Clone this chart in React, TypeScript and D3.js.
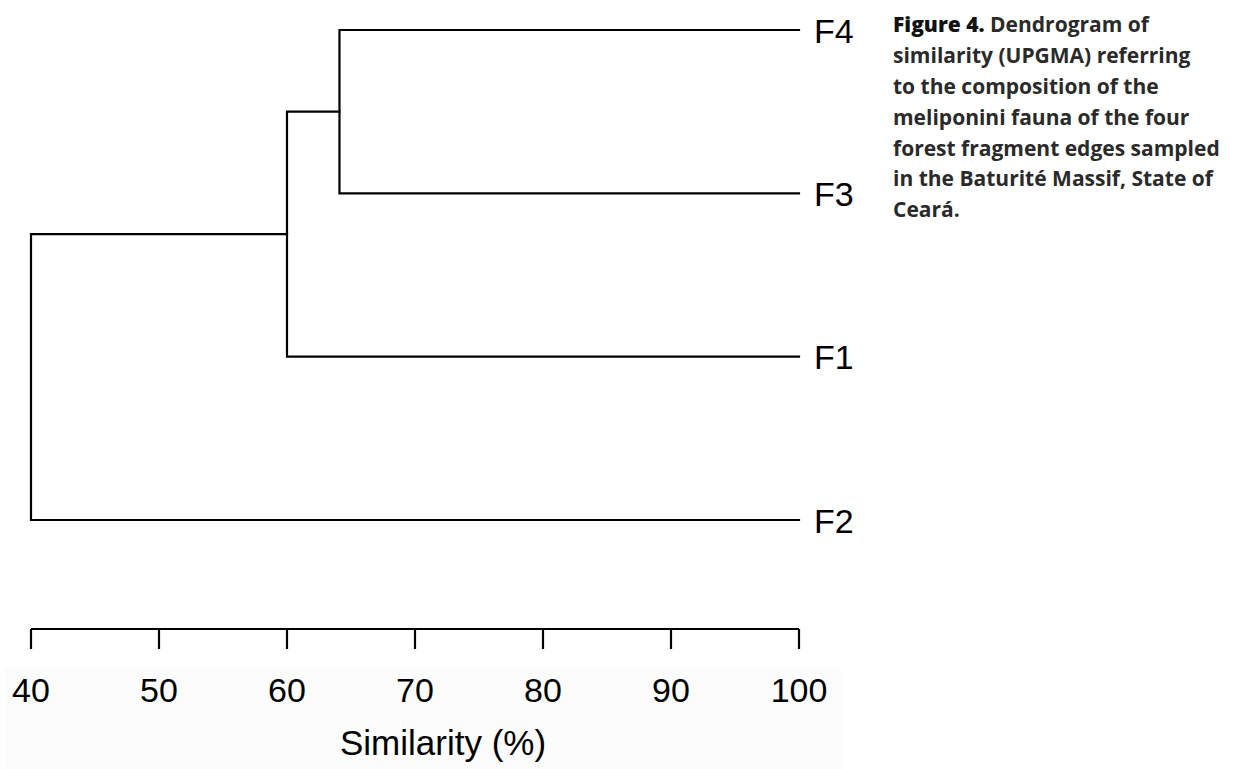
import React from "react";
import * as d3 from "d3";

// Leaves in display order (top to bottom)
const leaves = ["F4", "F3", "F1", "F2"];
// Merge heights (similarity %) for UPGMA clustering
const mergeF4F3 = 64.1;
const mergeWithF1 = 60;
const mergeWithF2 = 40;
const ticks = [40, 50, 60, 70, 80, 90, 100];
const axisTitle = "Similarity (%)";
const captionBold = "Figure 4.";
const captionLines = [
  " Dendrogram of",
  "similarity (UPGMA) referring",
  "to the composition of the",
  "meliponini fauna of the four",
  "forest fragment edges sampled",
  "in the Baturité Massif, State of",
  "Ceará.",
];

type Node = { name?: string; height: number; children?: Node[] };

const tree: Node = {
  height: mergeWithF2,
  children: [
    {
      height: mergeWithF1,
      children: [
        {
          height: mergeF4F3,
          children: [
            { name: "F4", height: 100 },
            { name: "F3", height: 100 },
          ],
        },
        { name: "F1", height: 100 },
      ],
    },
    { name: "F2", height: 100 },
  ],
};

export default function App() {
  const W = 1236;
  const H = 769;
  const x = d3.scaleLinear().domain([40, 100]).range([31, 799]);
  const y = d3.scalePoint<string>().domain(leaves).range([30, 520]);
  const axisY = 629;

  const root = d3.hierarchy<Node>(tree);
  const ypos = new Map<any, number>();
  root.eachAfter((n) => {
    if (!n.children) ypos.set(n, y(n.data.name!) as number);
    else {
      const ys = n.children.map((c) => ypos.get(c)!);
      ypos.set(n, (d3.min(ys)! + d3.max(ys)!) / 2);
    }
  });

  const paths: string[] = [];
  root.each((n) => {
    if (!n.children) return;
    const px = x(n.data.height);
    const ys = n.children.map((c) => ypos.get(c)!);
    const p = d3.path();
    p.moveTo(px, d3.min(ys)!);
    p.lineTo(px, d3.max(ys)!);
    n.children.forEach((c) => {
      const cy = ypos.get(c)!;
      p.moveTo(px, cy);
      p.lineTo(x(c.data.height), cy);
    });
    paths.push(p.toString());
  });

  const fontSans = "'Liberation Sans', Arial, Helvetica, sans-serif";

  return (
    <svg
      width={W}
      height={H}
      style={{ position: "absolute", left: 0, top: 0, background: "#fff" }}
    >
      <rect x={5} y={668} width={837} height={H - 668} fill="#fcfcfc" />
      {paths.map((d, i) => (
        <path key={i} d={d} fill="none" stroke="#000" strokeWidth={2.2} strokeLinecap="square" />
      ))}
      {root.leaves().map((l) => (
        <text
          key={l.data.name}
          x={814}
          y={ypos.get(l)! + 12.5}
          fontFamily={fontSans}
          fontSize={34}
          fill="#000"
        >
          {l.data.name}
        </text>
      ))}
      <path
        d={`M${x(40)},${axisY}H${x(100)}`}
        stroke="#000"
        strokeWidth={2.2}
        fill="none"
      />
      {ticks.map((t) => (
        <g key={t}>
          <line x1={x(t)} x2={x(t)} y1={axisY} y2={649} stroke="#000" strokeWidth={2.2} />
          <text
            x={x(t)}
            y={702}
            textAnchor="middle"
            fontFamily={fontSans}
            fontSize={34}
            fill="#000"
          >
            {t}
          </text>
        </g>
      ))}
      <text x={340} y={755} fontFamily={fontSans} fontSize={35} fill="#000">
        {axisTitle}
      </text>
      <g fontFamily="'Open Sans', 'Noto Sans', sans-serif" fontSize={21} fill="#2a2a2a">
        {captionLines.map((line, i) => (
          <text key={i} x={893} y={32.3 + i * 30.8} fontWeight={700}>
            {i === 0 ? (
              <>
                <tspan fontWeight={800} fill="#111">
                  {captionBold}
                </tspan>
                <tspan>{line}</tspan>
              </>
            ) : (
              line
            )}
          </text>
        ))}
      </g>
    </svg>
  );
}
